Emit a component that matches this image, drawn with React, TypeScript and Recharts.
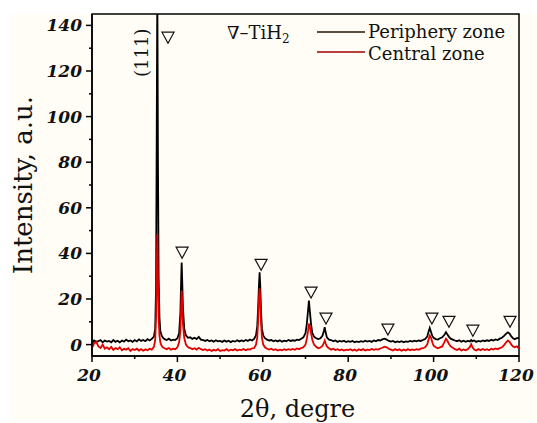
import {
    ComposedChart,
    Legend,
    Line,
    ReferenceArea,
    ReferenceDot,
    Scatter,
    XAxis,
    YAxis,
} from "recharts";

// 2θ positions (deg)
const twoTheta = [
    20.0, 20.5, 21.0, 21.5, 22.0, 22.5, 23.0, 23.5, 24.0, 24.5, 25.0, 25.5,
    26.0, 26.5, 27.0, 27.5, 28.0, 28.5, 29.0, 29.5, 30.0, 30.5, 31.0, 31.5,
    32.0, 32.5, 33.0, 33.5, 34.0, 34.5, 34.8, 35.0, 35.15, 35.3, 35.45, 35.6,
    35.8, 36.0, 36.3, 36.6, 37.0, 37.5, 38.0, 38.5, 39.0, 39.5, 40.0, 40.4,
    40.7, 40.9, 41.0, 41.1, 41.3, 41.6, 42.0, 42.5, 43.0, 43.5, 44.0, 44.5,
    45.0, 45.5, 46.0, 46.5, 47.0, 47.5, 48.0, 48.5, 49.0, 49.5, 50.0, 50.5,
    51.0, 51.5, 52.0, 52.5, 53.0, 53.5, 54.0, 54.5, 55.0, 55.5, 56.0, 56.5,
    57.0, 57.5, 58.0, 58.4, 58.7, 58.9, 59.1, 59.25, 59.4, 59.6, 59.8, 60.1,
    60.5, 61.0, 61.5, 62.0, 62.5, 63.0, 63.5, 64.0, 64.5, 65.0, 65.5, 66.0,
    66.5, 67.0, 67.5, 68.0, 68.5, 69.0, 69.5, 70.0, 70.3, 70.6, 70.8, 71.0,
    71.3, 71.6, 72.0, 72.5, 73.0, 73.5, 74.0, 74.3, 74.5, 74.7, 75.0, 75.5,
    76.0, 76.5, 77.0, 77.5, 78.0, 78.5, 79.0, 79.5, 80.0, 80.5, 81.0, 81.5,
    82.0, 82.5, 83.0, 83.5, 84.0, 84.5, 85.0, 85.5, 86.0, 86.5, 87.0, 87.5,
    88.0, 88.5, 89.0, 89.5, 90.0, 90.5, 91.0, 91.5, 92.0, 92.5, 93.0, 93.5,
    94.0, 94.5, 95.0, 95.5, 96.0, 96.5, 97.0, 97.5, 98.0, 98.5, 98.8, 99.1,
    99.4, 99.7, 100.0, 100.5, 101.0, 101.5, 102.0, 102.5, 102.9, 103.2, 103.6,
    104.0, 104.5, 105.0, 105.5, 106.0, 106.5, 107.0, 107.5, 108.0, 108.5,
    108.8, 109.1, 109.5, 110.0, 110.5, 111.0, 111.5, 112.0, 112.5, 113.0,
    113.5, 114.0, 114.5, 115.0, 115.5, 116.0, 116.5, 117.0, 117.4, 117.8,
    118.2, 118.6, 119.0, 119.5, 120.0,
];

// Periphery zone intensity (a.u.)
const periphery = [
    0.5, 1.8, 1.2, 1.5, 2.0, 1.0, 1.8, 1.3, 1.6, 1.0, 2.0, 1.2,
    1.7, 1.0, 1.8, 1.3, 2.2, 1.5, 1.8, 1.2, 2.0, 1.4, 2.3, 1.6,
    2.0, 1.5, 2.4, 1.8, 2.5, 3.5, 7, 25, 90, 160, 80, 30,
    12, 6, 4, 3.0, 2.4, 2.0, 2.6, 1.8, 2.2, 2.0, 2.8, 5,
    14, 30, 36, 30, 16, 7, 4, 3, 3.2, 2.5, 3.0, 2.4,
    3.4, 2.2, 2.0, 1.6, 2.0, 1.5, 1.8, 1.3, 1.9, 1.4, 1.6, 1.2,
    1.8, 1.3, 1.7, 1.1, 1.6, 1.3, 1.9, 1.4, 1.8, 1.5, 2.0, 1.6,
    2.2, 1.8, 2.6, 4, 8, 16, 26, 31.7, 26, 14, 7, 4,
    2.8, 2.2, 1.8, 2.0, 1.5, 1.8, 1.4, 1.9, 1.3, 1.7, 1.5, 2.0,
    1.6, 1.9, 1.7, 2.2, 2.0, 2.6, 3.2, 5, 9, 15, 19.3, 15,
    9, 5, 3.5, 2.8, 2.4, 2.8, 4, 6, 7.6, 5.5, 3.2, 2.2,
    2.0, 1.5, 1.8, 1.2, 1.6, 1.3, 1.7, 1.1, 1.5, 1.2, 1.6, 1.0,
    1.4, 1.1, 1.5, 1.2, 1.7, 1.3, 1.6, 1.2, 1.8, 1.5, 2.0, 1.8,
    2.3, 2.6, 2.2, 1.6, 1.3, 1.6, 1.0, 1.4, 1.1, 1.5, 1.0, 1.4,
    1.2, 1.6, 1.3, 1.7, 1.4, 1.8, 1.6, 2.0, 2.4, 3.5, 5.5, 7.3,
    5.5, 3.8, 3.0, 2.4, 2.2, 2.8, 3.2, 4.2, 5.4, 4.5, 3.4,
    2.6, 2.2, 1.8, 1.5, 1.9, 1.3, 1.7, 1.2, 1.6, 1.4,
    2.0, 1.5, 1.8, 1.2, 1.6, 1.3, 1.8, 1.5, 1.9, 1.6,
    2.1, 1.8, 2.3, 2.0, 2.6, 3.0, 3.8, 4.8, 5.4, 4.8,
    3.6, 2.8, 2.4, 2.8, 3.0,
];

// Central zone intensity (a.u.)
const central = [
    -1.5, 0.5, 1.2, -0.8, -1.5, 0.0, -1.8, -1.2, -2.0, -1.0, -2.3, -1.5,
    -2.0, -1.2, -2.5, -1.8, -2.2, -1.6, -2.8, -2.0, -2.4, -1.8, -2.6, -2.0,
    -2.7, -2.1, -2.5, -1.8, -2.2, -1.0, 2, 12, 30, 48.5, 28, 12,
    4, 1, -0.5, -1.2, -1.6, -2.0, -1.5, -2.2, -1.8, -2.0, -1.2, 1,
    6, 18, 23.7, 20, 9, 3, 0, -1.2, -1.5, -2.0, -1.6, -2.2,
    -1.4, -2.0, -2.4, -2.0, -2.6, -2.2, -2.8, -2.3, -2.6, -2.0, -2.8, -2.4,
    -2.6, -2.0, -2.7, -2.2, -2.5, -2.0, -2.6, -2.2, -2.4, -1.9, -2.5, -2.0,
    -2.2, -1.6, -1.5, 0, 3, 10, 20, 24.7, 20, 9, 3, 0,
    -1.2, -1.8, -2.2, -1.8, -2.4, -2.0, -2.6, -2.2, -2.5, -2.0, -2.4, -2.0,
    -2.3, -1.9, -2.3, -1.7, -2.0, -1.5, -1.2, 0, 2.5, 6, 9.2, 8,
    5, 2, 0, -1.0, -1.6, -1.3, -0.5, 0.8, 1.8, 0.6, -0.8, -1.6,
    -2.2, -1.8, -2.4, -2.0, -2.5, -2.1, -2.6, -2.2, -2.4, -2.0, -2.6, -2.2,
    -2.7, -2.1, -2.5, -2.0, -2.6, -2.2, -2.4, -1.9, -2.3, -2.0, -2.2, -1.7,
    -1.4, -0.9, -1.2, -1.8, -2.2, -2.6, -2.0, -2.5, -2.1, -2.7, -2.2, -2.6,
    -2.0, -2.5, -2.1, -2.4, -2.0, -2.3, -1.8, -1.6, -1.2, 0, 2, 4,
    3, 1, -0.5, -1.2, -1.6, -1.2, -0.8, 1.0, 2.6, 1.8, 0.2,
    -0.8, -1.4, -2.0, -2.4, -1.8, -2.6, -2.1, -2.5, -2.0, -1.0,
    0.2, -1.2, -2.2, -2.6, -2.0, -2.5, -1.9, -2.4, -2.0, -2.5,
    -1.8, -2.2, -1.7, -2.0, -1.5, -1.2, -0.2, 1.0, 1.8, 1.2,
    0, -0.8, -1.2, -0.8, -1.8,
];

// TiH2 reflection markers (position, height of the marker)
const markerX = [37.8, 41.1, 59.6, 71.3, 74.8, 89.3, 99.6, 103.6, 109.2, 117.9];
const markerY = [134.6, 40.3, 35, 22.8, 11.4, 6.6, 11.4, 10, 6.1, 10];

const xTicks = [20, 30, 40, 50, 60, 70, 80, 90, 100, 110, 120];
const yTicks = [0, 10, 20, 30, 40, 50, 60, 70, 80, 90, 100, 110, 120, 130, 140];

const rows = twoTheta.map((x, i) => ({
    x,
    periphery: periphery[i],
    central: central[i],
}));
const markers = markerX.map((x, i) => ({ x, y: markerY[i] }));

const SERIF = "'DejaVu Serif', 'Liberation Serif', serif";

function XTick(props: any) {
    const { x, y, payload } = props;
    const major = payload.value % 20 === 0;
    return (
        <g>
            <line x1={x} x2={x} y1={y} y2={y + (major ? 6 : 3)} stroke="#000" strokeWidth={1.5} />
            {major && (
                <text x={x - 3} y={y + 25} textAnchor="middle" fontFamily={SERIF} fontStyle="italic" fontWeight={600} fontSize={17} fill="#111">
                    {payload.value}
                </text>
            )}
        </g>
    );
}

function YTick(props: any) {
    const { x, y, payload } = props;
    const major = payload.value % 20 === 0;
    return (
        <g>
            <line x1={x} x2={x - (major ? 6 : 3)} y1={y} y2={y} stroke="#000" strokeWidth={1.5} />
            {major && (
                <text x={x - 10} y={y + 6} textAnchor="end" fontFamily={SERIF} fontStyle="italic" fontWeight={600} fontSize={17} fill="#111">
                    {payload.value}
                </text>
            )}
        </g>
    );
}

function Triangle(props: any) {
    const { cx, cy } = props;
    return (
        <path
            d={`M${cx - 6},${cy - 5.5} L${cx + 6},${cy - 5.5} L${cx},${cy + 5.5} Z`}
            fill="none"
            stroke="#111"
            strokeWidth={1.2}
        />
    );
}

function LegendBox() {
    return (
        <svg width={310} height={46}>
            <text x={7} y={19} fontFamily={SERIF} fontSize={18} fill="#111">
                ∇–TiH<tspan fontSize={12} dy={4}>2</tspan>
            </text>
            <line x1={97} x2={145} y1={12} y2={12} stroke="#2a1200" strokeWidth={1.5} />
            <text x={148} y={18} fontFamily={SERIF} fontSize={18} fill="#111">Periphery zone</text>
            <line x1={97} x2={145} y1={32} y2={32} stroke="#a00000" strokeWidth={1.5} />
            <text x={148} y={40} fontFamily={SERIF} fontSize={18} fill="#111">Central zone</text>
        </svg>
    );
}

export default function App() {
    return (
        <div style={{ position: "absolute", left: 0, top: 0, width: 537, height: 423, background: "#fff" }}>
            <div style={{ position: "absolute", left: 11, top: 14, width: 526, height: 407, background: "#fffdf6" }} />
            <ComposedChart
                width={537}
                height={423}
                data={rows}
                margin={{ top: 14, right: 18, left: 0, bottom: 0 }}
                style={{ position: "absolute", left: 0, top: 0 }}
            >
                <XAxis
                    dataKey="x"
                    type="number"
                    domain={[20, 120]}
                    ticks={xTicks}
                    interval={0}
                    height={67}
                    tickSize={0}
                    tickMargin={0}
                    tick={<XTick />}
                    axisLine={{ stroke: "#000", strokeWidth: 1.5 }}
                    label={{
                        content: (p: any) => (
                            <text
                                x={p.viewBox.x + p.viewBox.width / 2 - 8}
                                y={p.viewBox.y + 61}
                                textAnchor="middle"
                                fontFamily={SERIF}
                                fontSize={24}
                                fill="#111"
                            >
                                2θ, degre
                            </text>
                        ),
                    }}
                />
                <YAxis
                    type="number"
                    domain={[-5, 145]}
                    allowDataOverflow
                    ticks={yTicks}
                    interval={0}
                    width={92}
                    tickSize={0}
                    tickMargin={0}
                    tick={<YTick />}
                    axisLine={{ stroke: "#000", strokeWidth: 1.5 }}
                    label={{
                        content: (p: any) => {
                            const cx = 23;
                            const cy = p.viewBox.y + p.viewBox.height / 2;
                            return (
                                <text
                                    x={cx}
                                    y={cy}
                                    transform={`rotate(-90 ${cx} ${cy})`}
                                    textAnchor="middle"
                                    dominantBaseline="central"
                                    fontFamily={SERIF}
                                    fontSize={26}
                                    fill="#111"
                                >
                                    Intensity, a.u.
                                </text>
                            );
                        },
                    }}
                />
                <ReferenceArea x1={20} x2={120} y1={-5} y2={145} fill="none" stroke="#000" strokeWidth={1.5} />
                <Line
                    dataKey="periphery"
                    stroke="#000"
                    strokeWidth={1.8}
                    dot={false}
                    isAnimationActive={false}
                    legendType="none"
                />
                <Line
                    dataKey="central"
                    stroke="#e00000"
                    strokeWidth={1.8}
                    dot={false}
                    isAnimationActive={false}
                    legendType="none"
                />
                <Scatter data={markers} dataKey="y" shape={<Triangle />} isAnimationActive={false} legendType="none" />
                <ReferenceDot
                    x={31.5}
                    y={128}
                    r={0}
                    shape={(p: any) => (
                        <text
                            x={p.cx}
                            y={p.cy}
                            transform={`rotate(-90 ${p.cx} ${p.cy})`}
                            textAnchor="middle"
                            dominantBaseline="central"
                            fontFamily={SERIF}
                            fontSize={18}
                            fill="#111"
                        >
                            (111)
                        </text>
                    )}
                />
                <Legend
                    layout="horizontal"
                    verticalAlign="middle"
                    align="center"
                    content={<LegendBox />}
                    wrapperStyle={{ position: "absolute", left: 220, top: 20, width: 310 }}
                />
            </ComposedChart>
        </div>
    );
}
